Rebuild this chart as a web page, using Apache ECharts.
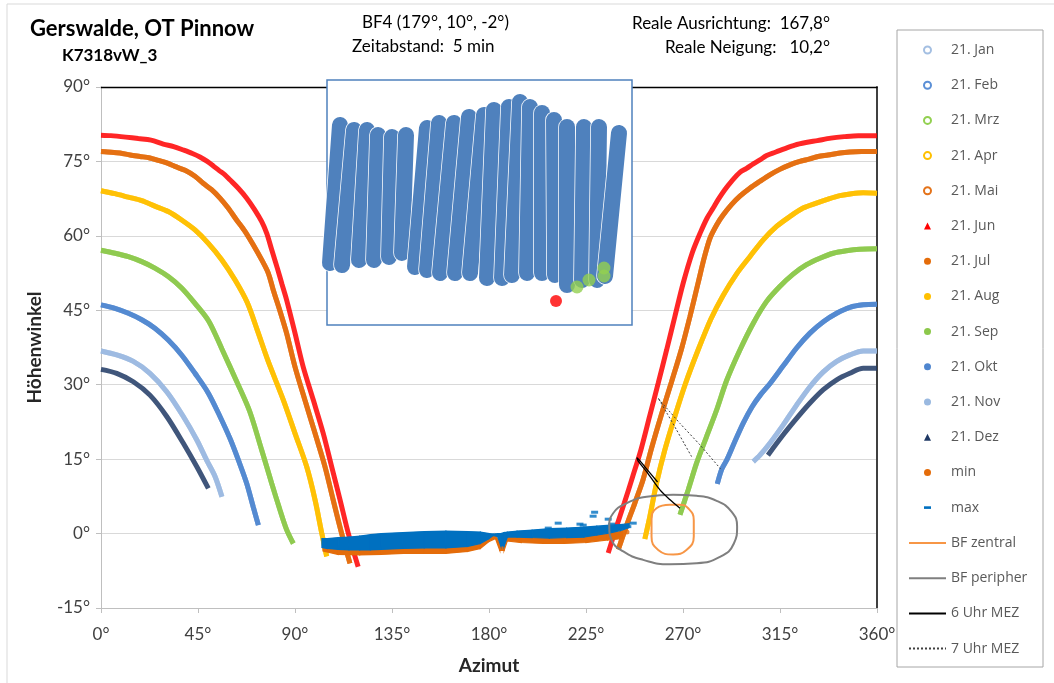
<!DOCTYPE html>
<html>
<head>
<meta charset="utf-8">
<title>Gerswalde, OT Pinnow</title>
<script src="https://cdn.jsdelivr.net/npm/echarts/dist/echarts.min.js"></script>
<style>
html, body { margin: 0; padding: 0; background: #fff; }
#chart { width: 1054px; height: 683px; }
</style>
</head>
<body>
<div id="chart"></div>
<script>
// sun paths, [azimut, hoehenwinkel]
// the months after June run on (almost) the same track as the ones before
var janNovLeft = [[0,36.8],[7.3,36.0],[15,34.7],[22.7,32.3],[30.5,28.6],[38.2,23.6],[44.4,18.9],[49,14.8],[52.9,11.5],[56.1,7.4]];
var janNovRight = [[302.6,14.5],[305.7,15.8],[310.3,18.2],[316.5,21.9],[322.7,25.9],[328.9,29.6],[335.1,32.6],[341.3,34.7],[347.4,36.0],[353.6,36.8],[360,36.8]];
var febOktLeft = [[0,46.1],[6.5,45.4],[12.7,44.4],[18.9,43.1],[25,41.4],[31.2,39.0],[37.4,36.0],[43.6,32.3],[49.8,28.3],[55.2,23.6],[60,19],[64,14.5],[67.6,10.1],[70.6,5.4],[73,1.7]];
var febOktRight = [[285.9,10.0],[288,13],[290.5,15],[294,18.5],[298,22.3],[302,25.5],[306,28],[310.3,30.2],[316.5,33.8],[322.7,37.4],[328.9,40.4],[335.1,42.7],[341.3,44.4],[347.4,45.6],[353.6,46.1],[360,46.2]];
var mrzSepLeft = [[0,57.1],[6.5,56.5],[12.7,55.8],[18.9,54.8],[25,53.5],[31.2,51.8],[37.4,49.5],[43.6,46.4],[50,42.8],[56.3,37.0],[63,30.6],[69,24.6],[74.5,16.9],[79.2,10.1],[83,4.8],[86.1,0.8],[89.2,-2.0]];
var mrzSepRight = [[268.6,3.8],[272.4,8.8],[276.3,14.2],[280.9,19.5],[285.6,24.9],[290.2,30.8],[296.4,37.0],[302.6,42.4],[308.8,46.8],[314.9,49.8],[321.1,52.3],[327.3,54.2],[333.5,55.5],[339.7,56.5],[345.8,57.0],[352,57.3],[360,57.4]];
var aprAugLeft = [[0,69.1],[6.5,68.5],[12.7,67.8],[18.9,67.1],[25,66.0],[31.2,64.9],[37.4,63.2],[43.6,61.2],[49.8,58.5],[56,55.2],[62.2,51.1],[67.8,46.6],[72.5,41.0],[77.5,34.8],[84.6,26.9],[90,20.2],[95.4,13.5],[99.3,6.8],[102.4,0.1],[104.7,-4.6]];
var aprAugRight = [[252.3,-1.1],[254.6,3.4],[257.7,10.1],[261.6,16.9],[266.2,23.6],[271.2,30.3],[277,37.0],[283,43.3],[288.6,48.0],[294.8,52.3],[301,55.8],[307.2,59.2],[313.4,61.9],[319.6,63.9],[325.7,65.6],[331.9,66.6],[337.3,67.4],[342.8,68.1],[348.2,68.5],[353.6,68.7],[360,68.6]];
var maiJulLeft = [[0,77.0],[3.1,76.9],[8.8,76.7],[13.5,76.3],[18.1,76.0],[22.7,75.7],[26.6,75.2],[30.5,74.7],[34.3,74.0],[39,73.2],[43.6,72.0],[47.4,70.6],[51.3,69.3],[55.2,67.6],[59,65.6],[62.9,63.2],[66.8,60.9],[70.6,58.2],[74.5,55.2],[77.6,52.5],[79.9,49.1],[83,44.9],[86.1,40.4],[90,33.6],[94.6,26.9],[99.3,20.2],[103.9,13.5],[107.7,6.8],[111.6,0.1],[115.5,-6.0]];
var maiJulRight = [[240,-3.2],[243.8,1.6],[247.7,6.2],[251.5,10.9],[255.4,17.2],[260,24.0],[264.7,30.6],[269.3,37.2],[273.2,43.7],[277,50.5],[279.8,55.5],[282.5,59.5],[285.6,62.2],[288.6,64.2],[292.5,66.3],[296.4,68.0],[301,69.6],[305.7,71.0],[310.3,72.3],[314.9,73.4],[319.6,74.3],[324.2,75.0],[328.8,75.5],[332.7,76.0],[337.3,76.3],[342.8,76.7],[347.4,76.9],[352.8,77.0],[360,77.0]];
var junLeft = [[0,80.3],[4.6,80.2],[11.5,79.9],[17.3,79.6],[23.2,79.3],[28.9,78.5],[33.7,78.0],[38.2,77.3],[42.4,76.6],[45.9,75.9],[49.3,75.0],[52.1,74.1],[54.7,73.2],[57.5,72.3],[59.8,71.3],[63.7,69.6],[67.6,67.6],[71.4,65.2],[74.5,62.9],[76.9,60.5],[79.2,57.2],[81.8,53.5],[84,50.2],[86.1,47.1],[90,40.4],[93.8,33.6],[98.5,26.9],[103.1,20.2],[107,13.5],[110.9,6.8],[114.7,0.1],[119.3,-6.7]];
var junRight = [[235.3,-3.9],[239,1.2],[242.8,6.2],[246.6,11.4],[250.5,16.9],[254.5,23.6],[258.5,30.3],[262.4,37.0],[266.2,43.7],[270.1,50.5],[274.3,56.6],[278,60.6],[281.2,63.6],[284,65.6],[286.3,67.3],[289.4,69.3],[292.5,71.0],[296.4,72.8],[299.5,73.6],[302.6,74.5],[305.7,75.3],[308.8,76.2],[313.1,76.9],[317.3,77.6],[321.9,78.3],[327,78.8],[332.3,79.2],[338.6,79.7],[344.8,80.0],[351.3,80.2],[358.2,80.2],[360,80.2]];
var dezLeft = [[0,33.1],[7.3,32.3],[15,30.6],[22.7,27.9],[30.5,23.6],[38.2,18.2],[44.4,13.5],[49.8,9.1]];
var dezRight = [[309.4,15.8],[316.5,19.9],[322.7,23.2],[328.9,26.3],[335.1,29.0],[341.3,31.0],[347.4,32.3],[353.6,33.3],[360,33.3]];

// horizon band: [azimut, oben, unten]
var maxBand = [[102.5,-1.0,-2.8],[105,-1.0,-3.0],[110,-0.8,-3.2],[115,-0.7,-3.3],[120,-0.5,-3.3],[125,-0.2,-3.3],[130,0.0,-3.2],[140,0.2,-3.0],[150,0.4,-2.9],[160,0.5,-2.9],[170,0.4,-2.6],[176,0.3,-2.0],[180,0.0,-1.0],[182,-0.1,-0.4],[184,0.0,-0.6],[185.5,0.0,-2.5],[187,0.2,-2.5],[188.5,0.3,-0.7],[193,0.5,-0.7],[200,0.7,-0.8],[208,1.0,-0.9],[216,1.1,-0.8],[224,1.3,-0.7],[230,1.5,-0.3],[236,1.7,0.1],[241,1.8,0.6],[245,2.0,1.2]];
var minBand = [[103,-2.0,-3.5],[110,-2.5,-4.2],[120,-2.5,-4.3],[130,-2.5,-4.2],[140,-2.3,-4.0],[150,-2.3,-4.0],[160,-2.3,-4.0],[170,-2.0,-3.6],[176,-1.5,-3.0],[180,-0.6,-1.6],[183,-0.3,-1.0],[185,-2.0,-3.4],[187,-2.0,-3.4],[188.5,-0.5,-1.5],[195,-0.5,-1.8],[205,-0.7,-2.0],[215,-0.7,-2.0],[225,-0.5,-1.8],[235,0.0,-1.3],[242,0.5,-1.0]];
var maxSingles = [[228.3,3.5],[229,4.3],[212.1,2.1],[222.2,1.9],[235.3,2.9],[246.9,2.1],[244.4,1.4],[207.5,1.1],[240,1.4],[236.9,1.9],[223.7,1.7]];
var minSingles = [[238,-0.4],[241,-0.2],[244,0.3]];

// Blendfelder und Stundenlinien
var bfZentral = [[263.9,5.8],[257.7,5.1],[255.4,2.7],[255.4,-0.6],[258.5,-3.3],[265.4,-4.2],[271.6,-3.3],[275.0,-0.6],[275.0,2.7],[272.4,5.1],[268.6,5.8],[263.9,5.8]];
var bfPeripher = [[265.4,7.8],[253.1,7.4],[243.8,6.1],[237.6,4.1],[235.8,1.4],[236.9,-1.3],[242.3,-3.6],[251.5,-5.3],[263.9,-6.2],[276.3,-6.0],[287.1,-4.7],[293.6,-2.0],[295.1,1.4],[292.5,4.4],[285.6,6.6],[276.3,7.6],[265.4,7.8]];
var uhr6 = [[258.2,10.4],[252.8,13.2],[249.8,14.8],[248.6,15.3],[249.2,14.6],[253.1,12.5],[259.3,8.8],[264,6.8],[268.6,5.1]];
var uhr7 = [[274,15.5],[270.5,18.2],[267,20.9],[262.5,24.3],[258.5,27.3],[259.5,26.7],[264,24.5],[268.6,22.2],[277.8,17.9],[287.5,13.0]];

// Einschub (Bildausschnitt BF4): Striche [x unten, y unten, x oben, y oben], Punkte
var insetStrokes = [[3,183,13,45],[15,185,27,50],[32,180,40,50],[47,180,51,55],[62,177,65,57],[75,173,79,55],[88,187,100,48],[100,190,112,43],[113,193,127,43],[128,193,142,37],[143,193,157,35],[160,198,167,30],[175,198,182,27],[185,195,193,22],[200,193,203,27],[215,193,215,33],[228,195,227,40],[240,205,240,47],[255,200,257,47],[270,200,272,47],[278,196,292,53]];
var insetGreen = [[250,207],[262,200],[277,188],[277,196]];
var insetRed = [[229,221]];

var monthNames = ['21. Jan','21. Feb','21. Mrz','21. Apr','21. Mai','21. Jun','21. Jul','21. Aug','21. Sep','21. Okt','21. Nov','21. Dez'];
var monthTracks = [
  [janNovLeft, janNovRight], [febOktLeft, febOktRight], [mrzSepLeft, mrzSepRight],
  [aprAugLeft, aprAugRight], [maiJulLeft, maiJulRight], [junLeft, junRight],
  [maiJulLeft, maiJulRight], [aprAugLeft, aprAugRight], [mrzSepLeft, mrzSepRight],
  [febOktLeft, febOktRight], [janNovLeft, janNovRight], [dezLeft, dezRight]
];
var monthColors = ['#a4bfe2','#5b8fd6','#92d050','#ffc000','#e4731a','#ff0000','#e46c0a','#ffc000','#8cc84b','#4f86cf','#9ab9e0','#1f3864'];
var monthIcons = ['emptyCircle','emptyCircle','emptyCircle','emptyCircle','emptyCircle','triangle','circle','circle','circle','circle','circle','triangle'];

var chart = echarts.init(document.getElementById('chart'));

var series = [];
monthNames.forEach(function (name, i) {
  monthTracks[i].forEach(function (part) {
    series.push({
      name: name,
      type: 'line',
      data: part,
      smooth: 0.3,
      symbol: 'none',
      z: 3,
      itemStyle: { color: monthColors[i] },
      lineStyle: { color: monthColors[i], width: 5, opacity: 0.85 }
    });
  });
});

function band(name, data, color) {
  return {
    name: name,
    type: 'custom',
    z: 4,
    data: data,
    encode: { x: 0, y: [1, 2] },
    itemStyle: { color: color },
    renderItem: function (params, api) {
      var i = params.dataIndex;
      if (i >= data.length - 1) return null;
      var a = data[i], b = data[i + 1];
      return {
        type: 'polygon',
        shape: { points: [api.coord([a[0], a[1]]), api.coord([b[0], b[1]]), api.coord([b[0], b[2]]), api.coord([a[0], a[2]])] },
        style: { fill: color, stroke: color, lineWidth: 1.2 }
      };
    }
  };
}
series.push(band('min', minBand, '#e46c0a'));
series.push({ name: 'min', type: 'scatter', z: 4, data: minSingles, symbol: 'circle', symbolSize: 5, itemStyle: { color: '#e46c0a' } });
series.push(band('max', maxBand, '#0070c0'));
series.push({ name: 'max', type: 'scatter', z: 5, data: maxSingles, symbol: 'rect', symbolSize: [7, 3], itemStyle: { color: '#0070c0' } });

series.push({ name: 'BF zentral', type: 'line', data: bfZentral, smooth: 0.5, symbol: 'none', z: 6,
  itemStyle: { color: '#f79646' }, lineStyle: { color: '#f79646', width: 2 } });
series.push({ name: 'BF peripher', type: 'line', data: bfPeripher, smooth: 0.5, symbol: 'none', z: 6,
  itemStyle: { color: '#7f7f7f' }, lineStyle: { color: '#7f7f7f', width: 2 } });
series.push({ name: '6 Uhr MEZ', type: 'line', data: uhr6, smooth: 0.3, symbol: 'none', z: 6,
  itemStyle: { color: '#000' }, lineStyle: { color: '#000', width: 1.3 } });
series.push({ name: '7 Uhr MEZ', type: 'line', data: uhr7, smooth: 0.2, symbol: 'none', z: 6,
  itemStyle: { color: '#404040' }, lineStyle: { color: '#404040', width: 1, type: [2, 2] } });

// Einschub
series.push({
  type: 'custom', xAxisIndex: 2, yAxisIndex: 2, z: 12,
  data: insetStrokes,
  encode: { x: [0, 2], y: [1, 3] },
  renderItem: function (params, api) {
    var p1 = api.coord([api.value(0), api.value(1)]);
    var p2 = api.coord([api.value(2), api.value(3)]);
    var shape = { x1: p1[0], y1: p1[1], x2: p2[0], y2: p2[1] };
    return { type: 'group', children: [
      { type: 'line', shape: shape, style: { stroke: '#ffffff', lineWidth: 17.5, lineCap: 'round' } },
      { type: 'line', shape: shape, style: { stroke: '#4f81bd', lineWidth: 16, lineCap: 'round' } }
    ] };
  }
});
series.push({ type: 'scatter', xAxisIndex: 2, yAxisIndex: 2, z: 13, data: insetGreen, symbolSize: 13,
  itemStyle: { color: '#92d050' } });
series.push({ type: 'scatter', xAxisIndex: 2, yAxisIndex: 2, z: 13, data: insetRed, symbolSize: 12,
  itemStyle: { color: '#ff0000' } });

var markerLegend = monthNames.map(function (n, i) {
  return { name: n, icon: monthIcons[i] };
});
markerLegend.push({ name: 'min', icon: 'circle' });
markerLegend.push({ name: 'max', icon: 'path://M0,0H8V3H0Z' });

var legendText = { fontFamily: 'Open Sans', fontSize: 14, color: '#595959', lineHeight: 18 };
var labelFont = { fontFamily: 'Lato', fontSize: 17, color: '#404040' };

var option = {
  animation: false,
  backgroundColor: '#ffffff',
  title: [
    { text: 'Gerswalde, OT Pinnow', left: 30, top: 18, padding: 0, textStyle: { fontFamily: 'Lato', fontWeight: 'bold', fontSize: 22, color: '#000' } },
    { text: 'K7318vW_3', left: 62, top: 47, padding: 0, textStyle: { fontFamily: 'Lato', fontWeight: 'bold', fontSize: 17, color: '#000' } },
    { text: 'BF4 (179°, 10°, -2°)', left: 362, top: 14, padding: 0, textStyle: { fontFamily: 'Lato', fontWeight: 'normal', fontSize: 17, color: '#000' } },
    { text: 'Zeitabstand:  5 min', left: 352, top: 38, padding: 0, textStyle: { fontFamily: 'Lato', fontWeight: 'normal', fontSize: 17, color: '#000' } },
    { text: 'Reale Ausrichtung:  167,8°', right: 224, top: 15, padding: 0, textStyle: { fontFamily: 'Lato', fontWeight: 'normal', fontSize: 17, color: '#000' } },
    { text: 'Reale Neigung:   10,2°', right: 224, top: 39, padding: 0, textStyle: { fontFamily: 'Lato', fontWeight: 'normal', fontSize: 17, color: '#000' } }
  ],
  graphic: [
    { type: 'rect', z: -10, shape: { x: 7, y: 4, width: 1100, height: 700 }, style: { fill: 'none', stroke: '#d9d9d9', lineWidth: 1 } },
    { type: 'rect', z: 0, shape: { x: 897, y: 30, width: 146, height: 637 }, style: { fill: '#fff', stroke: '#a6a6a6', lineWidth: 1 } }
  ],
  legend: [
    { data: markerLegend, orient: 'vertical', left: 918, top: 36, itemWidth: 7, itemHeight: 7, itemGap: 17.2,
      selectedMode: false, z: 5, textStyle: Object.assign({ padding: [0, 0, 0, 15] }, legendText) },
    { data: ['BF zentral', 'BF peripher', '6 Uhr MEZ', '7 Uhr MEZ'], orient: 'vertical', left: 903, top: 529,
      itemWidth: 37, itemHeight: 8, itemGap: 17.2, selectedMode: false, z: 5, textStyle: legendText,
      itemStyle: { opacity: 0 } }
  ],
  grid: [
    { left: 101, right: 177, top: 87, bottom: 75 },
    { left: 327, top: 80, width: 305, height: 245, show: true, z: 10, backgroundColor: '#ffffff', borderColor: '#4f81bd', borderWidth: 1.5 }
  ],
  xAxis: [
    { gridIndex: 0, type: 'value', min: 0, max: 360, interval: 45, position: 'bottom',
      axisLine: { show: true, onZero: false, lineStyle: { color: '#bfbfbf', width: 1 } },
      axisTick: { show: true, length: 5, lineStyle: { color: '#bfbfbf' } },
      axisLabel: Object.assign({ formatter: '{value}°', margin: 18 }, labelFont),
      splitLine: { show: false },
      name: 'Azimut', nameLocation: 'middle', nameGap: 48,
      nameTextStyle: { fontFamily: 'Lato', fontWeight: 'bold', fontSize: 19, color: '#262626' } },
    { gridIndex: 0, type: 'value', min: 0, max: 360, position: 'top',
      axisLine: { show: true, onZero: false, lineStyle: { color: '#000', width: 1.3 } },
      axisTick: { show: false }, axisLabel: { show: false }, splitLine: { show: false } },
    { gridIndex: 1, type: 'value', min: 0, max: 305, show: false }
  ],
  yAxis: [
    { gridIndex: 0, type: 'value', min: -15, max: 90, interval: 15, position: 'left',
      axisLine: { show: true, onZero: false, lineStyle: { color: '#bfbfbf', width: 1 } },
      axisTick: { show: true, length: 5, lineStyle: { color: '#bfbfbf' } },
      axisLabel: Object.assign({ formatter: '{value}°', margin: 11 }, labelFont),
      splitLine: { show: true, lineStyle: { color: '#d9d9d9', width: 1 } },
      name: 'Höhenwinkel', nameLocation: 'middle', nameGap: 57,
      nameTextStyle: { fontFamily: 'Lato', fontWeight: 'bold', fontSize: 19, color: '#262626' } },
    { gridIndex: 0, type: 'value', min: -15, max: 90, position: 'right',
      axisLine: { show: true, onZero: false, lineStyle: { color: '#404040', width: 2 } },
      axisTick: { show: false }, axisLabel: { show: false }, splitLine: { show: false } },
    { gridIndex: 1, type: 'value', min: 0, max: 245, inverse: true, show: false }
  ],
  series: series
};

chart.setOption(option);
</script>
</body>
</html>
